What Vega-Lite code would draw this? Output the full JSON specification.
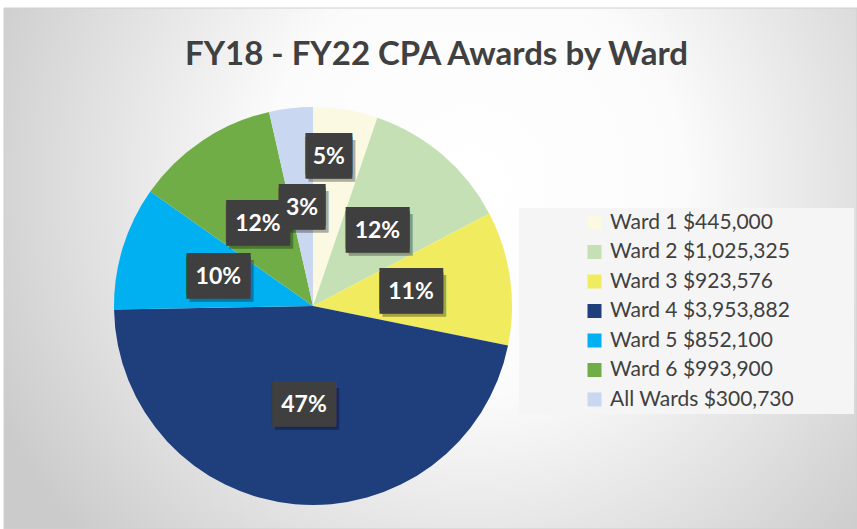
{
  "$schema": "https://vega.github.io/schema/vega-lite/v6.json",
  "width": 853,
  "height": 521,
  "autosize": "none",
  "padding": {"left": 4, "top": 8, "right": 0, "bottom": 0},
  "background": "white",
  "config": {"view": {"stroke": null}},
  "title": {
    "text": "FY18 - FY22 CPA Awards by Ward",
    "font": "Lato",
    "fontSize": 33,
    "fontWeight": "bold",
    "color": "#404040",
    "anchor": "middle",
    "frame": "group",
    "baseline": "alphabetic",
    "offset": -90,
    "dx": 6
  },
  "layer": [
    {
      "data": {"values": [{}]},
      "mark": {
        "type": "rect",
        "fill": {
          "gradient": "radial",
          "x1": 0.55, "y1": 0.4, "r1": 0,
          "x2": 0.55, "y2": 0.4, "r2": 0.62,
          "stops": [
            {"offset": 0, "color": "#ffffff"},
            {"offset": 0.4, "color": "#fbfbfb"},
            {"offset": 1, "color": "#cbcbcb"}
          ]
        },
        "stroke": "#cfcfcf",
        "strokeWidth": 1
      },
      "encoding": {
        "x": {"value": 0}, "x2": {"value": "width"},
        "y": {"value": 0}, "y2": {"value": "height"}
      }
    },
    {
      "data": {"values": [{}]},
      "mark": {"type": "point", "shape": "circle", "filled": true, "color": "white", "opacity": 0.25, "size": 144000},
      "encoding": {"x": {"value": 309}, "y": {"value": 298}}
    },
    {
      "data": {"values": [{}]},
      "mark": {"type": "point", "shape": "circle", "filled": true, "color": "white", "opacity": 0.35, "size": 133000},
      "encoding": {"x": {"value": 309}, "y": {"value": 298}}
    },
    {
      "data": {
        "values": [
          {"ward": "Ward 1 $445,000", "amount": 445000, "pct": "5%", "i": 1},
          {"ward": "Ward 2 $1,025,325", "amount": 1025325, "pct": "12%", "i": 2},
          {"ward": "Ward 3 $923,576", "amount": 923576, "pct": "11%", "i": 3},
          {"ward": "Ward 4 $3,953,882", "amount": 3953882, "pct": "47%", "i": 4},
          {"ward": "Ward 5 $852,100", "amount": 852100, "pct": "10%", "i": 5},
          {"ward": "Ward 6 $993,900", "amount": 993900, "pct": "12%", "i": 6},
          {"ward": "All Wards $300,730", "amount": 300730, "pct": "3%", "i": 7}
        ]
      },
      "encoding": {
        "theta": {"field": "amount", "type": "quantitative", "stack": true},
        "order": {"field": "i", "type": "quantitative"},
        "x": {"value": 309},
        "y": {"value": 298}
      },
      "layer": [
        {
          "mark": {"type": "arc", "radius": 199},
          "encoding": {
            "color": {
              "field": "ward",
              "type": "nominal",
              "sort": null,
              "scale": {
                "domain": ["Ward 1 $445,000", "Ward 2 $1,025,325", "Ward 3 $923,576", "Ward 4 $3,953,882", "Ward 5 $852,100", "Ward 6 $993,900", "All Wards $300,730"],
                "range": ["#FBF9E1", "#C5E0B4", "#F0EB5F", "#1F3E7C", "#00B0F0", "#70AD47", "#C9D7F0"]
              },
              "legend": {
                "orient": "none",
                "legendX": 515,
                "legendY": 200,
                "title": "\u00a0",
                "titleOrient": "right",
                "titlePadding": 56,
                "titleFontSize": 10,
                "symbolType": "square",
                "symbolSize": 196,
                "symbolStrokeWidth": 0,
                "labelFont": "Lato",
                "labelFontSize": 21,
                "labelColor": "#404040",
                "labelLimit": 400,
                "rowPadding": 7.5,
                "padding": 4,
                "symbolOffset": 61,
                "labelOffset": 5,
                "fillColor": "#f5f5f5"
              }
            }
          }
        },
        {
          "mark": {"type": "text", "radius": 99, "font": "DejaVu Sans Mono", "fontSize": 35, "color": "black", "opacity": 0.3, "dx": 3, "dy": 5, "baseline": "middle"},
          "encoding": {
            "text": {"condition": [{"test": "datum.i == 1", "value": ""}, {"test": "length(datum.pct) == 3", "value": "███"}], "value": "▕██▏"}
          }
        },
        {
          "mark": {"type": "text", "radius": 151, "font": "DejaVu Sans Mono", "fontSize": 35, "color": "black", "opacity": 0.3, "dx": -6, "dy": 5, "baseline": "middle"},
          "encoding": {
            "text": {"condition": {"test": "datum.i == 1", "value": "▕██▏"}, "value": ""}
          }
        },
        {
          "mark": {"type": "text", "radius": 99, "font": "DejaVu Sans Mono", "fontSize": 35, "color": "#3f3f3f", "baseline": "middle", "dy": -2},
          "encoding": {
            "text": {"condition": [{"test": "datum.i == 1", "value": ""}, {"test": "length(datum.pct) == 3", "value": "███"}], "value": "▕██▏"}
          }
        },
        {
          "mark": {"type": "text", "radius": 99, "font": "DejaVu Sans Mono", "fontSize": 35, "color": "#3f3f3f", "baseline": "middle", "dy": 2},
          "encoding": {
            "text": {"condition": [{"test": "datum.i == 1", "value": ""}, {"test": "length(datum.pct) == 3", "value": "███"}], "value": "▕██▏"}
          }
        },
        {
          "mark": {"type": "text", "radius": 151, "font": "DejaVu Sans Mono", "fontSize": 35, "color": "#3f3f3f", "baseline": "middle", "dx": -9, "dy": -2},
          "encoding": {
            "text": {"condition": {"test": "datum.i == 1", "value": "▕██▏"}, "value": ""}
          }
        },
        {
          "mark": {"type": "text", "radius": 151, "font": "DejaVu Sans Mono", "fontSize": 35, "color": "#3f3f3f", "baseline": "middle", "dx": -9, "dy": 2},
          "encoding": {
            "text": {"condition": {"test": "datum.i == 1", "value": "▕██▏"}, "value": ""}
          }
        },
        {
          "mark": {"type": "text", "radius": 99, "font": "Lato", "fontSize": 23, "fontWeight": "bold", "color": "white", "baseline": "middle"},
          "encoding": {
            "text": {"condition": {"test": "datum.i == 1", "value": ""}, "field": "pct", "type": "nominal"}
          }
        },
        {
          "mark": {"type": "text", "radius": 151, "font": "Lato", "fontSize": 23, "fontWeight": "bold", "color": "white", "baseline": "middle", "dx": -9},
          "encoding": {
            "text": {"condition": {"test": "datum.i != 1", "value": ""}, "field": "pct", "type": "nominal"}
          }
        }
      ]
    }
  ]
}
